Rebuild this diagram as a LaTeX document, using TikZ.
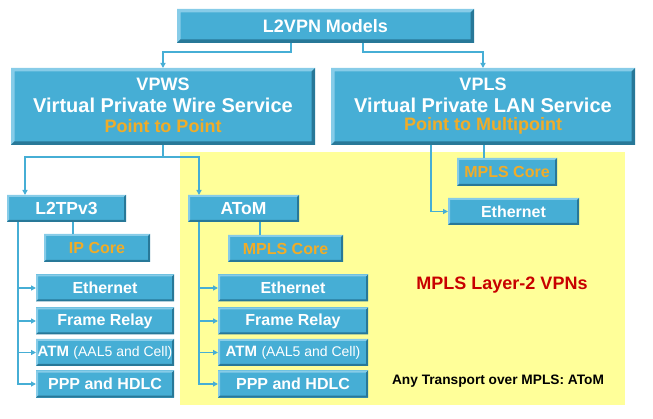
\documentclass[tikz,border=0pt]{standalone}
\usepackage{fontspec}
\setmainfont{Liberation Sans}
\usetikzlibrary{arrows.meta}
\definecolor{boxblue}{RGB}{70,174,213}
\definecolor{bvlight}{RGB}{135,204,232}
\definecolor{bvdark}{RGB}{40,120,152}
\definecolor{goldtxt}{RGB}{240,172,40}
\definecolor{ylw}{RGB}{255,255,153}
\definecolor{redtxt}{RGB}{200,0,0}
\definecolor{lineblue}{RGB}{70,174,213}
\tikzset{
  bev/.style={path picture={
    \coordinate (bvnw) at (path picture bounding box.north west);
    \coordinate (bvne) at (path picture bounding box.north east);
    \coordinate (bvsw) at (path picture bounding box.south west);
    \coordinate (bvse) at (path picture bounding box.south east);
    \fill[bvlight] (bvsw) -- (bvnw) -- (bvne) -- ([xshift=-#1,yshift=-#1]bvne) -- ([xshift=#1,yshift=-#1]bvnw) -- ([xshift=#1,yshift=#1]bvsw) -- cycle;
    \fill[bvdark] (bvsw) -- (bvse) -- (bvne) -- ([xshift=-#1,yshift=-#1]bvne) -- ([xshift=-#1,yshift=#1]bvse) -- ([xshift=#1,yshift=#1]bvsw) -- cycle;
  }},
  box/.style 2 args={fill=boxblue, inner sep=0pt, outer sep=0pt,
    minimum width=#1pt, minimum height=#2pt, text=white,
    font=\fontsize{16}{19}\selectfont\bfseries, bev=2pt},
  bigbox/.style 2 args={box={#1}{#2}, bev=3.5pt},
  conn/.style={draw=lineblue, line width=1.8pt},
  arr/.style={conn, -{Triangle[length=5pt,width=5pt]}},
  wtxt/.style={text=white, inner sep=0pt, font=\fontsize{#1}{#1}\selectfont\bfseries},
  gtxt/.style={text=goldtxt, inner sep=0pt, font=\fontsize{#1}{#1}\selectfont\bfseries},
}
\begin{document}
\begin{tikzpicture}[x=1pt,y=-1pt]
\useasboundingbox (0,0) rectangle (653,419);
\fill[ylw] (180,152) rectangle (625,405);

% top level
\node[bigbox={297}{34}, font=\fontsize{18}{18}\selectfont\bfseries] (top) at (325.5,26) {L2VPN Models};
\node[bigbox={304}{77}] (vpws) at (163,106.5) {};
\node[bigbox={304}{77}] (vpls) at (483,106.5) {};
\node[wtxt=18] (vpwsa) at (163,84) {VPWS};
\node[wtxt=20] (vpwsb) at (163,105) {Virtual Private Wire Service};
\node[gtxt=18] (vpwsc) at (163,126) {Point to Point};
\node[wtxt=18] (vplsa) at (483,84) {VPLS};
\node[wtxt=20] (vplsb) at (483,105) {Virtual Private LAN Service};
\node[gtxt=18] (vplsc) at (483,126) {Point to Multipoint};

% second level
\node[box={119}{27}, font=\fontsize{17.5}{18}\selectfont\bfseries] (l2tp) at (66.5,208.5) {L2TPv3};
\node[box={111}{27}, font=\fontsize{17.5}{18}\selectfont\bfseries] (atom) at (243.5,208.5) {AToM};
\node[box={106}{28}, text=goldtxt] (ipcore) at (97,248) {IP Core};
\node[box={115}{27}, text=goldtxt] (mplsa) at (285.5,248.5) {MPLS Core};
\node[box={100}{28}, text=goldtxt] (mplsv) at (507,172) {MPLS Core};
\node[box={131}{27}] (ethv) at (513.5,211.5) {Ethernet};

% L2TPv3 children
\node[box={138}{27}] (ethl) at (105,288) {Ethernet};
\node[box={138}{27}] (frl) at (105,321) {Frame Relay};
\node[box={138}{27}] (atml) at (105,352.5) {{\fontsize{15}{15}\selectfont ATM} {\fontsize{14}{14}\selectfont\mdseries (AAL5 and Cell)}};
\node[box={138}{27}] (pppl) at (105,384) {PPP and HDLC};

% AToM children
\node[box={150}{27}] (etha) at (293,288) {Ethernet};
\node[box={150}{27}] (fra) at (293,321) {Frame Relay};
\node[box={150}{27}] (atma) at (293,352.5) {{\fontsize{15}{15}\selectfont ATM} {\fontsize{14}{14}\selectfont\mdseries (AAL5 and Cell)}};
\node[box={150}{27}] (pppa) at (293,384) {PPP and HDLC};

% labels
\node[text=redtxt, font=\fontsize{18}{18}\selectfont\bfseries] (lbl1) at (502,285) {MPLS Layer-2 VPNs};
\node[text=black, font=\fontsize{13.7}{14}\selectfont\bfseries] (lbl2) at (498,381) {Any Transport over MPLS: AToM};

% connectors
\draw[arr] ([xshift=-34.5pt]top.south) -- ++(0,9) -| (vpws.north);
\draw[arr] ([xshift=37.5pt]top.south) -- ++(0,9) -| (vpls.north);

\draw[conn] (vpws.south) -- ++(0,12) coordinate (vj);
\draw[arr] (vj) -| ([xshift=18pt]l2tp.north west);
\draw[arr] (vj) -| ([xshift=11pt]atom.north west);

\coordinate (ipc) at ([xshift=29pt]ipcore.north west);
\draw[conn] (ipc |- l2tp.south) -- (ipc);
\coordinate (amc) at ([xshift=32pt]mplsa.north west);
\draw[conn] (amc |- atom.south) -- (amc);

\coordinate (ls) at ([xshift=11pt]l2tp.south west);
\draw[arr] (ls) |- (ethl.west);
\draw[arr] (ls) |- (frl.west);
\draw[arr] (ls) |- (atml.west);
\draw[arr] (ls) |- (pppl.west);

\coordinate (as) at ([xshift=11pt]atom.south west);
\draw[arr] (as) |- (etha.west);
\draw[arr] (as) |- (fra.west);
\draw[arr] (as) |- (atma.west);
\draw[arr] (as) |- (pppa.west);

\coordinate (vm) at ([xshift=27pt]mplsv.north west);
\draw[conn] (vm |- vpls.south) -- (vm);
\coordinate (ve) at ([xshift=100pt]vpls.south west);
\draw[arr] (ve) |- (ethv.west);
\end{tikzpicture}
\end{document}
